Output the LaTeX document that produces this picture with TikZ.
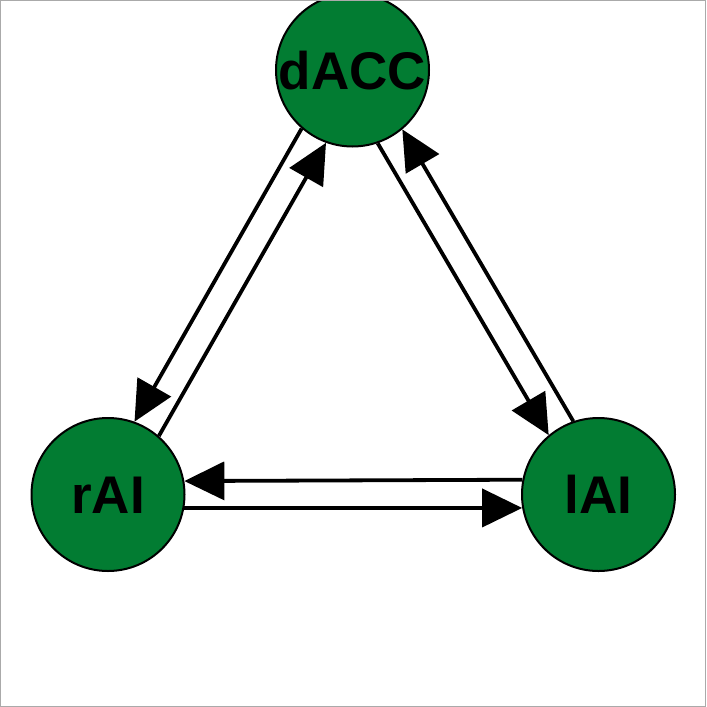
\documentclass[tikz,border=0pt]{standalone}
\usepackage{fontspec}
\setmainfont{Liberation Sans}
\usetikzlibrary{arrows.meta}
\definecolor{nodegreen}{RGB}{2,124,50}
\definecolor{framegray}{RGB}{170,170,170}
\begin{document}
\begin{tikzpicture}[x=1pt,y=-1pt,
  region/.style={circle,draw=black,line width=2pt,fill=nodegreen,minimum size=153pt,inner sep=0pt,
    font=\fontsize{53}{53}\selectfont\bfseries,text height=38pt,text depth=0pt},
  link/.style={line width=3.8pt,-{Triangle[length=40pt,width=38pt]}}]
\useasboundingbox (0,0) rectangle (707,707);
\clip (0,0) rectangle (707,707);
\node[region] (d) at (352.5,70) {dACC};
\node[region] (r) at (108,494.5) {rAI};
\node[region] (l) at (598.5,494.5) {lAI};
% dACC <-> rAI
\draw[link] (d.229.6) -- (r.70.3);
\draw[link] (r.49.5) -- (d.250.4);
% dACC <-> lAI
\draw[link] (d.289.7) -- (l.130.5);
\draw[link] (l.109.7) -- (d.310.5);
% rAI <-> lAI
\draw[link] (l.169.6) -- (r.10.4);
\draw[link] (r.-10.4) -- (l.190.4);
\draw[framegray,line width=1pt] (0.5,0.5) rectangle (705.5,706);
\end{tikzpicture}
\end{document}
